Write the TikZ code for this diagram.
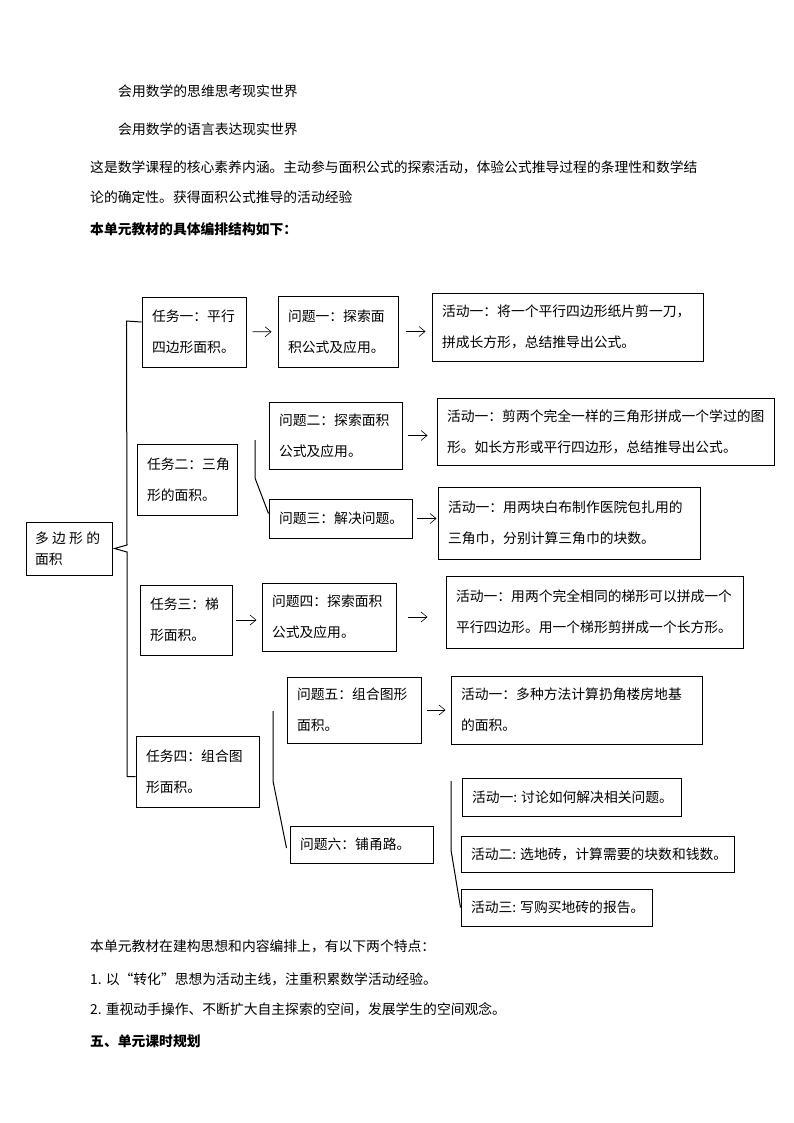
\documentclass[tikz,border=0pt]{standalone}
\usepackage{fontspec}
\setmainfont{Noto Sans CJK SC}
\usetikzlibrary{positioning, arrows.meta}

\tikzset{
  box/.style={draw, line width=1pt, inner xsep=10pt, inner ysep=0pt, align=left,
    font=\fontsize{13.8}{31}\selectfont},
  arr/.style={-{Straight Barb[length=6pt,width=10pt]}, line width=0.6pt},
  brace/.style={line width=1pt},
  txt/.style={anchor=west, inner sep=0pt, font=\fontsize{13.8}{16}\selectfont},
}

\begin{document}
\begin{tikzpicture}[x=1pt,y=-1pt]
\useasboundingbox (0,0) rectangle (794,1123);
% text above
\node[txt] (l1) at (118,91) {会用数学的思维思考现实世界};
\node[txt] (l2) at (118,129) {会用数学的语言表达现实世界};
\node[txt] (p1) at (90,167) {这是数学课程的核心素养内涵。主动参与面积公式的探索活动，体验公式推导过程的条理性和数学结};
\node[txt] (p2) at (90,197) {论的确定性。获得面积公式推导的活动经验};
\node[txt, font=\fontsize{13.8}{16}\selectfont\bfseries] (p3) at (90,229) {本单元教材的具体编排结构如下：};
%
% root and tasks
\node[box, inner xsep=9pt, text width=68pt, minimum height=53pt,
  font=\fontsize{13.8}{21}\selectfont] (t0) at (69,548.5)
  {多\kern3.3pt边\kern3.3pt形\kern3.3pt的\\面积};
\node[box, text width=84pt, minimum height=70pt] (t1) at (194,332) {任务一：平行\\四边形面积。};
\node[box, text width=80pt, minimum height=71pt] (t2) at (187,479.5) {任务二：三角\\形的面积。};
\node[box, text width=72pt, minimum height=70pt] (t3) at (186,620) {任务三：梯\\形面积。};
\node[box, text width=103pt, minimum height=71pt] (t4) at (197.5,771.5) {任务四：组合图\\形面积。};
%
% questions
\node[box, text width=100pt, minimum height=71pt] (q1) at (338,331.5) {问题一：探索面\\积公式及应用。};
\node[box, text width=113pt, minimum height=67pt] (q2) at (335.5,435.5) {问题二：探索面积\\公式及应用。};
\node[box, text width=123pt, minimum height=39pt] (q3) at (340.5,518.5) {问题三：解决问题。};
\node[box, text width=114pt, minimum height=68pt] (q4) at (329,617) {问题四：探索面积\\公式及应用。};
\node[box, text width=114pt, minimum height=66pt] (q5) at (354,710) {问题五：组合图形\\面积。};
\node[box, text width=123pt, minimum height=37pt] (q6) at (361.5,844.5) {问题六：铺甬路。};
%
% activities
\node[box, text width=251pt, minimum height=68pt] (a1) at (567.5,327) {活动一：将一个平行四边形纸片剪一刀，\\拼成长方形，总结推导出公式。};
\node[box, text width=317pt, minimum height=67pt] (a2) at (605.5,431.5) {活动一：剪两个完全一样的三角形拼成一个学过的图\\形。如长方形或平行四边形，总结推导出公式。};
\node[box, text width=242pt, minimum height=72pt] (a3) at (569,523) {活动一：用两块白布制作医院包扎用的\\三角巾，分别计算三角巾的块数。};
\node[box, text width=277pt, minimum height=72pt] (a4) at (594.5,612) {活动一：用两个完全相同的梯形可以拼成一个\\平行四边形。用一个梯形剪拼成一个长方形。};
\node[box, text width=231pt, minimum height=68pt] (a5) at (576.5,710) {活动一：多种方法计算扔角楼房地基\\的面积。};
\node[box, text width=199pt, minimum height=38pt] (a6) at (571.5,797) {活动一:\kern4pt讨论如何解决相关问题。};
\node[box, text width=253pt, minimum height=36pt] (a7) at (597.5,854) {活动二:\kern4pt选地砖，计算需要的块数和钱数。};
\node[box, text width=171pt, minimum height=37pt] (a8) at (556.5,907.5) {活动三:\kern4pt写购买地砖的报告。};
%
% braces
\coordinate (m1) at (127,545);
\coordinate (m2) at (127,552);
\draw[brace] ([yshift=10pt]t1.west) -- ++(-15,-1) -- (m1) -- ([xshift=2pt]t0.east) -- (m2) |- ([yshift=-5pt]t4.west);
\coordinate (k2) at (255,440);
\draw[brace] (k2) -- ++(0,38) -- ([yshift=5pt]q3.west);
\coordinate (k3) at (273,711);
\draw[brace] (k3) -- ++(0,70) -- ([xshift=-3pt,yshift=-3.5pt]q6.west);
\coordinate (k4) at (451,781);
\draw[brace] (k4) -- ++(0,69) -- (a8.west);
%
% arrows
\draw[arr, shorten <=6pt, shorten >=6pt] (t1) -- (q1);
\draw[arr, shorten <=7pt, shorten >=6pt] (q1.east) -- (q1.east -| a1.west);
\draw[arr, shorten <=5pt, shorten >=9pt] (q2.east) -- (q2.east -| a2.west);
\draw[arr, shorten <=4pt, shorten >=1pt] (q3.east) -- (q3.east -| a3.west);
\draw[arr, shorten <=3pt, shorten >=5pt] (t3.east) -- (t3.east -| q4.west);
\draw[arr, shorten <=11pt, shorten >=18pt] (q4.east) -- (q4.east -| a4.west);
\draw[arr, shorten <=5pt, shorten >=5pt] (q5.east) -- (q5.east -| a5.west);
%
% text below
\node[txt] (n1) at (90,946) {本单元教材在建构思想和内容编排上，有以下两个特点：};
\node[txt] (n2) at (90,979) {1. 以“转化”思想为活动主线，注重积累数学活动经验。};
\node[txt] (n3) at (90,1009) {2. 重视动手操作、不断扩大自主探索的空间，发展学生的空间观念。};
\node[txt, font=\fontsize{13.8}{16}\selectfont\bfseries] (n4) at (90,1041) {五、单元课时规划};
\end{tikzpicture}
\end{document}
